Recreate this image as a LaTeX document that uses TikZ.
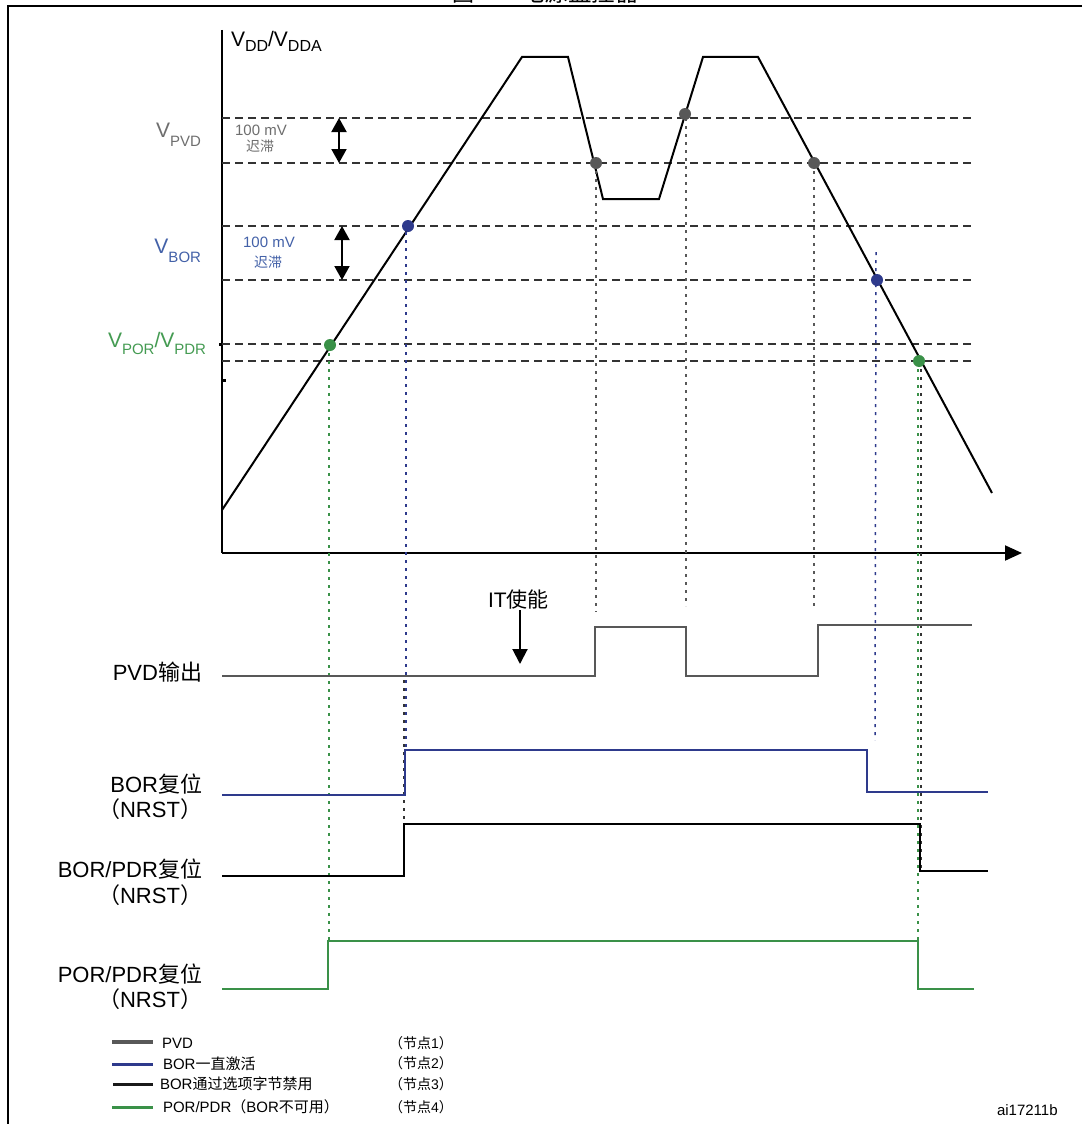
\documentclass[tikz,border=0pt]{standalone}
\usepackage{fontspec}
\setmainfont{Liberation Sans}
\newfontfamily\cjk{Noto Sans CJK SC}
\usetikzlibrary{arrows.meta}
\definecolor{pvdgray}{HTML}{585858}
\definecolor{pvdlabel}{HTML}{6E6E6E}
\definecolor{borblue}{HTML}{2E3A8C}
\definecolor{borlabel}{HTML}{4361A8}
\definecolor{porgreen}{HTML}{3A9148}
\definecolor{porlabel}{HTML}{449B52}
\newcommand{\fs}[1]{\fontsize{#1}{#1}\selectfont}
\newcommand{\lowsub}[3]{\raisebox{-#1pt}{\fs{#2}#3}}
\begin{document}
\begin{tikzpicture}[x=1pt,y=-1pt,
  every node/.style={inner sep=0pt, outer sep=0pt},
  wave/.style={line width=2pt, line join=miter},
  thr/.style={line width=1.6pt, dash pattern=on 8pt off 5pt, black!80},
  vdot/.style={line width=1.5pt, dash pattern=on 3pt off 5pt},
  sig/.style={line width=2pt},
  dotmark/.style={circle, fill=#1, minimum size=12pt},
  tri/.style={-{Triangle[length=15pt,width=15pt]}},
  dtri/.style={{Triangle[length=14pt,width=15pt]}-{Triangle[length=14pt,width=15pt]}},
]
\path[use as bounding box, fill=white] (0,0) rectangle (1082,1124);

% clipped title fragment
\begin{scope}
\clip (0,0) rectangle (1082,5);
\node[anchor=base west] (title1) at (452,2) {\fs{22}\cjk 图};
\node[anchor=base west] (title2) at (521,2) {\fs{23.5}\cjk 电源监控器};
\end{scope}

% frame
\draw[line width=2.5pt] (1082,6) -- (8,6) -- (8,1124);

% axes
\coordinate (ytop) at (222,30);
\coordinate (orig) at (222,553);
\coordinate (xend) at (1022,553);
\draw[line width=2pt] (ytop) -- (orig);
\draw[line width=2pt, -{Triangle[length=17pt,width=15pt]}] (orig) -- (xend);
\fill (219,343) rectangle (222,346);
\fill (222,379) rectangle (226,382);

\node[anchor=base west] (ylab) at (231,47) {\fs{21}V\lowsub{5}{16}{DD}/V\lowsub{5}{16}{DDA}};

% threshold lines
\foreach \yy/\nm in {118/pu,163/pl,226/bu,280/bl,344/ou,361/ol}{
  \coordinate (\nm L) at (222,\yy);
  \coordinate (\nm R) at (972,\yy);
  \draw[thr] (\nm L) -- (\nm R);
}

% threshold labels
\node[anchor=base east, text=pvdlabel] (vpvd) at (201,137) {\fs{21}V\lowsub{9}{15}{PVD}};
\node[anchor=base east, text=borlabel] (vbor) at (201,253) {\fs{21}V\lowsub{9}{15}{BOR}};
\node[anchor=base west, text=porlabel] (vpor) at (108,347) {\fs{21}V\lowsub{7}{15}{POR}/V\lowsub{7}{15}{PDR}};

\node[anchor=base, text=pvdlabel] (h1a) at (261,135) {\fs{15}100 mV};
\node[anchor=base, text=pvdlabel] (h1b) at (260,151) {\fs{14}\cjk 迟滞};
\node[anchor=base, text=borlabel] (h2a) at (269,247) {\fs{15}100 mV};
\node[anchor=base, text=borlabel] (h2b) at (268,267) {\fs{14}\cjk 迟滞};

\coordinate (a1t) at (339,118); \coordinate (a1b) at (339,163);
\coordinate (a2t) at (342,226); \coordinate (a2b) at (342,280);
\draw[line width=2pt, dtri] (a1t) -- (a1b);
\draw[line width=2pt, dtri] (a2t) -- (a2b);

% supply waveform
\draw[wave] (222,510) -- (522,57) -- (568,57) -- (603,199) -- (659,199)
  -- (703,57) -- (758,57) -- (992,493);

% vertical dotted guides
\draw[vdot, porgreen] (329,345) -- (329,941);
\draw[vdot, borblue] (406,232) -- (406,750);
\draw[vdot, black!80] (404,680) -- (404,824);
\draw[vdot, pvdgray] (596,163) -- (596,612);
\draw[vdot, pvdgray] (686,118) -- (686,606);
\draw[vdot, pvdgray] (814,163) -- (814,606);
\draw[vdot, borblue] (876,252) -- (875,740);
\draw[vdot, porgreen] (918,361) -- (918,989);
\draw[vdot, black!80] (921,361) -- (921,870);

% crossing dots
\node[dotmark=porgreen] (d1) at (330,345) {};
\node[dotmark=borblue] (d2) at (408,226) {};
\node[dotmark=pvdgray] (d3) at (596,163) {};
\node[dotmark=pvdgray] (d4) at (685,114) {};
\node[dotmark=pvdgray] (d5) at (814,163) {};
\node[dotmark=borblue] (d6) at (877,280) {};
\node[dotmark=porgreen] (d7) at (919,361) {};

% IT enable
\node[anchor=base west] (it) at (488,607) {\fs{21}IT{\cjk 使能}};
\coordinate (itarr) at (520,664);
\draw[line width=2pt, tri] (520,610) -- (itarr);

% output signals
\draw[sig, pvdgray] (222,676) -- (595,676) -- (595,627) -- (686,627) -- (686,676)
  -- (818,676) -- (818,625) -- (972,625);
\draw[sig, borblue] (222,795) -- (405,795) -- (405,750) -- (867,750) -- (867,792) -- (988,792);
\draw[sig, black] (222,876) -- (404,876) -- (404,824) -- (920,824) -- (920,871) -- (988,871);
\draw[sig, porgreen] (222,989) -- (328,989) -- (328,941) -- (918,941) -- (918,989) -- (974,989);

% signal labels
\node[anchor=base east] (s1) at (202,680) {\fs{22}PVD{\cjk 输出}};
\node[anchor=base east] (s2a) at (202,792) {\fs{22}BOR{\cjk 复位}};
\node[anchor=base east] (s2b) at (202,817) {\fs{22}{\cjk （}NRST{\cjk ）}};
\node[anchor=base east] (s3a) at (202,877) {\fs{22}BOR/PDR{\cjk 复位}};
\node[anchor=base east] (s3b) at (202,903) {\fs{22}{\cjk （}NRST{\cjk ）}};
\node[anchor=base east] (s4a) at (202,982) {\fs{22}POR/PDR{\cjk 复位}};
\node[anchor=base east] (s4b) at (202,1007) {\fs{22}{\cjk （}NRST{\cjk ）}};

% legend
\draw[line width=4pt, pvdgray] (112,1042) -- (153,1042);
\draw[line width=3pt, borblue] (112,1064) -- (153,1064);
\draw[line width=3pt, black!90] (113,1084) -- (153,1084);
\draw[line width=3pt, porgreen] (112,1107) -- (153,1107);
\node[anchor=west] (l1) at (162,1043) {\fs{15}PVD};
\node[anchor=west] (l2) at (163,1064) {\fs{15}BOR{\cjk 一直激活}};
\node[anchor=west] (l3) at (160,1084) {\fs{15}BOR{\cjk 通过选项字节禁用}};
\node[anchor=west] (l4) at (163,1107) {\fs{15}POR/PDR{\cjk （}BOR{\cjk 不可用）}};
\node[anchor=west] (n1) at (389,1043) {\fs{14}{\cjk （节点}1{\cjk ）}};
\node[anchor=west] (n2) at (389,1063) {\fs{14}{\cjk （节点}2{\cjk ）}};
\node[anchor=west] (n3) at (389,1084) {\fs{14}{\cjk （节点}3{\cjk ）}};
\node[anchor=west] (n4) at (389,1107) {\fs{14}{\cjk （节点}4{\cjk ）}};

\node[anchor=base west] (ref) at (997,1115) {\fs{15}ai17211b};
\end{tikzpicture}
\end{document}
